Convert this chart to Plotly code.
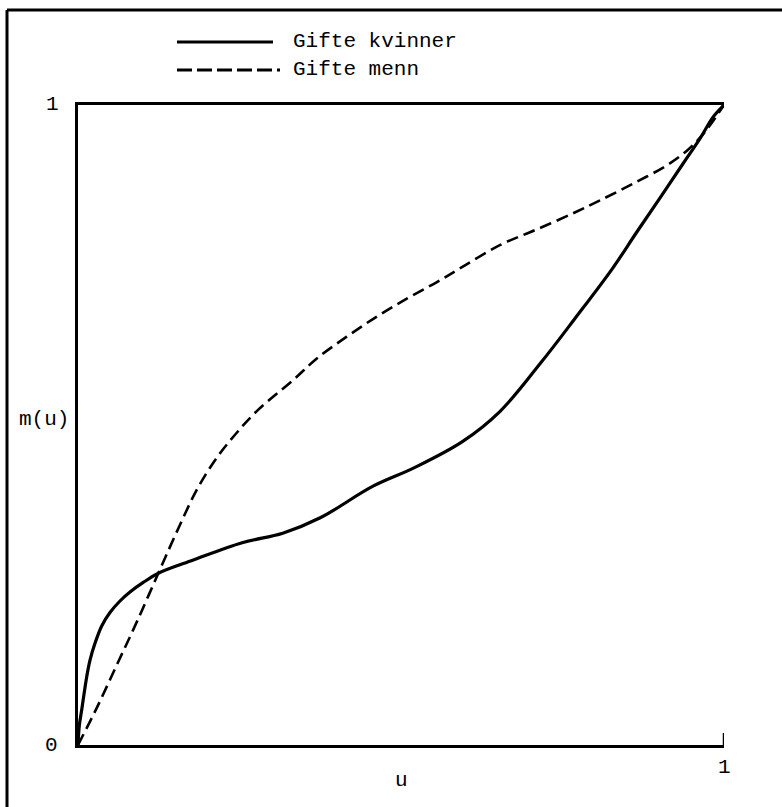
import plotly.graph_objects as go

# Concentration curves m(u) for married women and married men
u_kvinner = [0.0, 0.002, 0.0057, 0.0135, 0.0186, 0.0263, 0.0367, 0.0495, 0.065, 0.0805,
             0.101, 0.1243, 0.1785, 0.254, 0.317, 0.375, 0.456, 0.520, 0.595, 0.653,
             0.717, 0.769, 0.827, 0.864, 0.901, 0.937, 0.963, 0.983, 1.0]
m_kvinner = [0.0, 0.03, 0.0547, 0.1067, 0.1328, 0.1589, 0.186, 0.207, 0.225, 0.239,
             0.254, 0.2683, 0.289, 0.316, 0.331, 0.355, 0.404, 0.433, 0.474, 0.521,
             0.598, 0.666, 0.744, 0.80, 0.855, 0.909, 0.948, 0.981, 1.0]

u_menn = [0.0, 0.03, 0.06, 0.09, 0.1243, 0.1556, 0.1845, 0.2135, 0.2424, 0.2771, 0.335,
          0.3697, 0.416, 0.462, 0.509, 0.555, 0.595, 0.653, 0.711, 0.769, 0.808,
          0.859, 0.912, 0.943, 0.963, 0.978, 1.0]
m_menn = [0.0, 0.06, 0.125, 0.19, 0.2683, 0.339, 0.400, 0.447, 0.484, 0.522, 0.572,
          0.604, 0.638, 0.669, 0.6975, 0.723, 0.747, 0.781, 0.806, 0.832, 0.851,
          0.877, 0.906, 0.929, 0.949, 0.968, 1.0]

series_names = ["Gifte kvinner", "Gifte menn"]
axis_ticks = ["0", "1"]
y_title = "m(u)"
x_title = "u"

W, H = 782, 807
FONT = dict(family="Liberation Mono, DejaVu Sans Mono, monospace", size=21, color="black")


def px_x(v):
    return v / W


def px_y(v):
    return 1 - v / H


fig = go.Figure()
fig.add_trace(go.Scatter(x=u_kvinner, y=m_kvinner, mode="lines", line_shape="spline",
                         line=dict(color="black", width=3.2), cliponaxis=False,
                         name=series_names[0], showlegend=False))
fig.add_trace(go.Scatter(x=u_menn, y=m_menn, mode="lines", line_shape="spline",
                         line=dict(color="black", width=2.6, dash="12px,6px"), cliponaxis=False,
                         name=series_names[1], showlegend=False))

# dash-dash-dash-dash-dash-dot sample used in the key
key_dash = ",".join(["15px,5px"] * 5 + ["3px,5px"])

shapes = [
    # outer frame (left and top edges)
    dict(type="line", xref="paper", yref="paper", x0=px_x(7), x1=px_x(7), y0=px_y(10), y1=0,
         line=dict(color="black", width=3)),
    dict(type="line", xref="paper", yref="paper", x0=px_x(7), x1=1, y0=px_y(10), y1=px_y(10),
         line=dict(color="black", width=3)),
    # end tick at u = 1
    dict(type="line", xref="x", yref="paper", x0=1, x1=1, y0=px_y(745), y1=px_y(733),
         line=dict(color="black", width=2.5)),
    # key samples
    dict(type="line", xref="paper", yref="paper", x0=px_x(177), x1=px_x(273),
         y0=px_y(42), y1=px_y(42), line=dict(color="black", width=3.2)),
    dict(type="line", xref="paper", yref="paper", x0=px_x(177), x1=px_x(280),
         y0=px_y(70), y1=px_y(70), line=dict(color="black", width=2.8, dash=key_dash)),
]

annotations = [
    dict(text=axis_ticks[1], xref="paper", yref="y", x=px_x(52), y=1, showarrow=False,
         xanchor="center", yanchor="middle", font=FONT),
    dict(text=axis_ticks[0], xref="paper", yref="y", x=px_x(51), y=0, showarrow=False,
         xanchor="center", yanchor="middle", font=FONT),
    dict(text=y_title, xref="paper", yref="y", x=px_x(44), y=0.508, showarrow=False,
         xanchor="center", yanchor="middle", font=FONT),
    dict(text=axis_ticks[1], xref="x", yref="paper", x=1, y=px_y(767), showarrow=False,
         xanchor="center", yanchor="middle", font=FONT),
    dict(text=x_title, xref="x", yref="paper", x=0.5, y=px_y(780), showarrow=False,
         xanchor="center", yanchor="middle", font=FONT),
    dict(text=series_names[0], xref="paper", yref="paper", x=px_x(291), y=px_y(42),
         showarrow=False, xanchor="left", yanchor="middle", font=FONT),
    dict(text=series_names[1], xref="paper", yref="paper", x=px_x(291), y=px_y(70),
         showarrow=False, xanchor="left", yanchor="middle", font=FONT),
]

fig.update_layout(
    width=W, height=H,
    margin=dict(l=0, r=0, t=0, b=0),
    paper_bgcolor="white", plot_bgcolor="white",
    shapes=shapes, annotations=annotations,
    xaxis=dict(domain=[px_x(78), px_x(724)], range=[0, 1], showgrid=False, zeroline=False,
               showticklabels=False, ticks="", showline=True, linecolor="black",
               linewidth=3, mirror=True, fixedrange=True),
    yaxis=dict(domain=[px_y(745), px_y(105)], range=[0, 1], showgrid=False, zeroline=False,
               showticklabels=False, ticks="", showline=True, linecolor="black",
               linewidth=3, mirror=False, fixedrange=True),
    showlegend=False,
)

fig.write_html("out.html")
